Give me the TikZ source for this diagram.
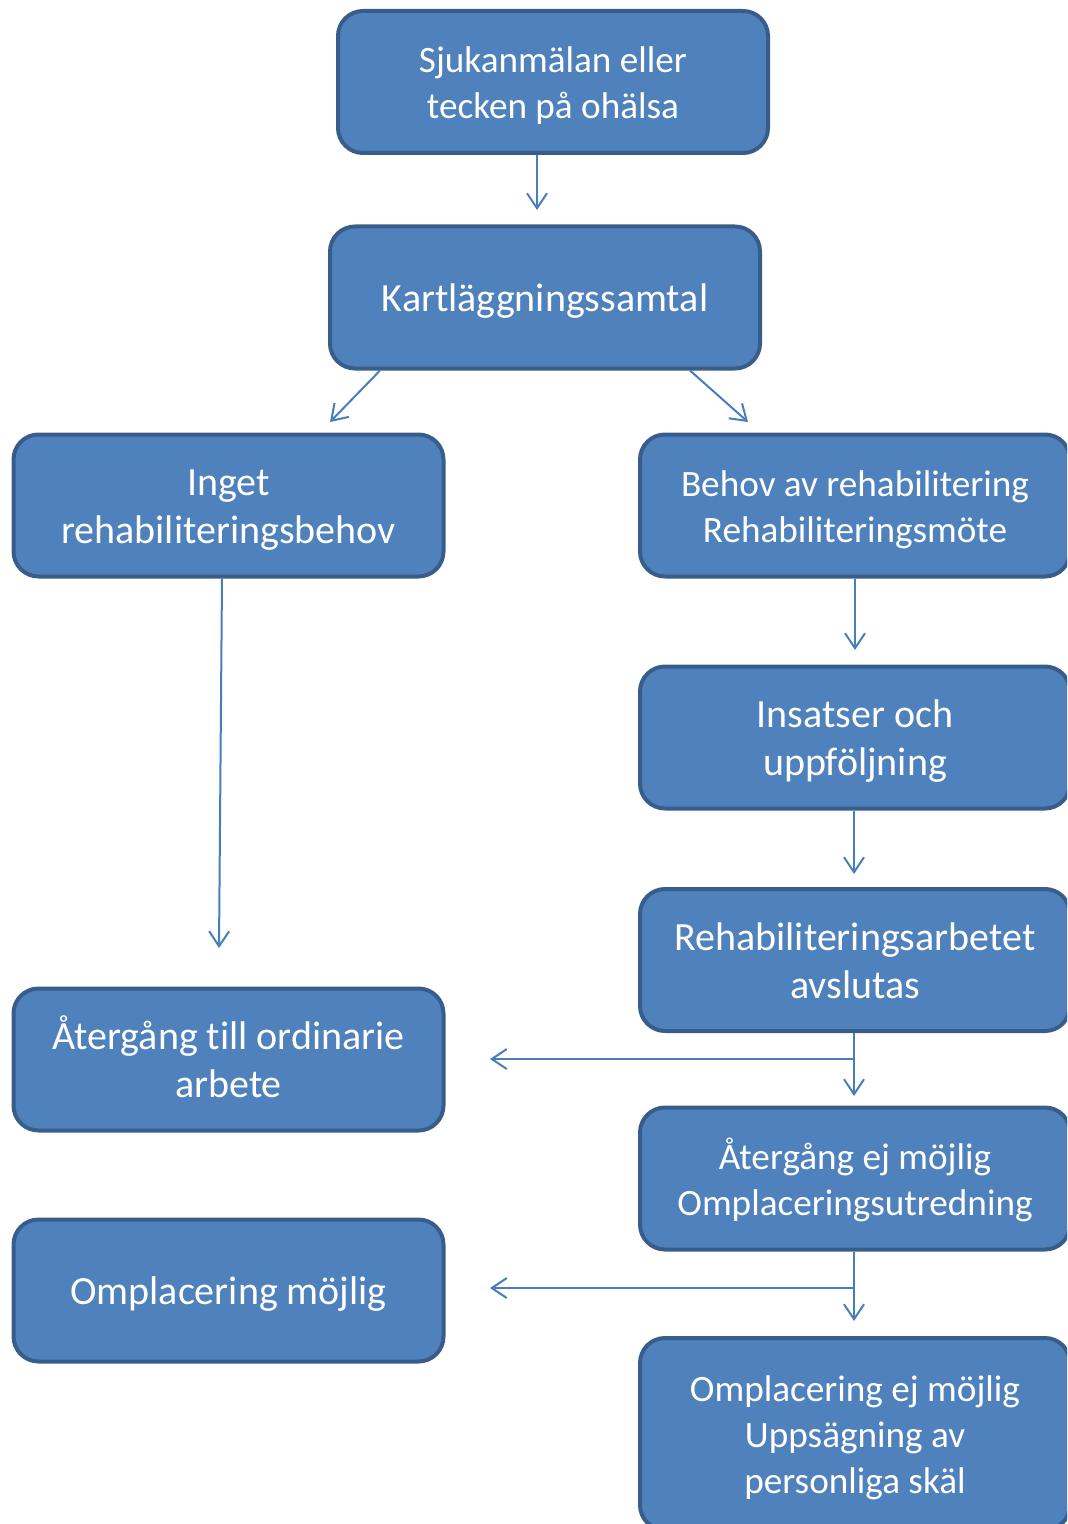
\documentclass[tikz,border=0pt]{standalone}
\usepackage{fontspec}
\setmainfont{Carlito}[Ligatures=NoCommon]
\usetikzlibrary{arrows.meta}
\definecolor{boxfill}{HTML}{4F81BD}
\definecolor{boxline}{HTML}{385D8A}
\definecolor{arrcol}{HTML}{4A7EBB}
\newcommand{\tallstrut}{\rule{0pt}{\dimexpr\ht\strutbox+4.5pt\relax}\rule[-\dp\strutbox]{0pt}{0pt}}
\tikzset{
  flowbox/.style={rectangle, rounded corners=12.5pt, fill=boxfill, draw=boxline,
    line width=2pt, text=white, align=center, minimum width=215pt,
    minimum height=71pt, inner sep=0pt},
  bigtxt/.style={font=\fontsize{20}{24}\selectfont},
  smalltxt/.style={font=\fontsize{18.6}{23}\selectfont},
  arr/.style={draw=arrcol, line width=1pt, -{Straight Barb[length=7.5pt,width=10pt]}}
}
\begin{document}
\begin{tikzpicture}[x=0.5pt,y=-0.5pt]
\useasboundingbox (0,0) rectangle (1067,1524);
\clip (0,0) rectangle (1067,1524);
\node[flowbox,smalltxt] (b1) at (553,82) {\tallstrut Sjukanmälan eller\\\strut tecken på ohälsa};
\node[flowbox,bigtxt] (b2) at (545,297.5) {\tallstrut Kartläggningssamtal};
\node[flowbox,bigtxt] (b3) at (228.5,505.5) {\tallstrut Inget\\\strut rehabiliteringsbehov};
\node[flowbox,smalltxt] (b4) at (855,505.5) {\tallstrut Behov av rehabilitering\\\strut Rehabiliteringsmöte};
\node[flowbox,bigtxt] (b5) at (855,737.5) {\tallstrut Insatser och\\\strut uppföljning};
\node[flowbox,bigtxt] (b6) at (855,960) {\tallstrut Rehabiliteringsarbetet\\\strut avslutas};
\node[flowbox,smalltxt] (b7) at (855,1178.5) {\tallstrut Återgång ej möjlig\\\strut Omplaceringsutredning};
\node[flowbox,smalltxt,minimum height=96pt] (b8) at (855,1434) {\tallstrut Omplacering ej möjlig\\\strut Uppsägning av\\\strut personliga skäl};
\node[flowbox,bigtxt] (b9) at (228.5,1059.5) {\tallstrut Återgång till ordinarie\\\strut arbete};
\node[flowbox,bigtxt] (b10) at (228.5,1290.5) {\tallstrut Omplacering möjlig};

\coordinate (t12) at (537,210);
\coordinate (t23) at (330,422);
\coordinate (t24) at (748,422);
\coordinate (t39) at (219,948);
\coordinate (t45) at (855,650);
\coordinate (t56) at (854,874);
\coordinate (t67) at (854,1096);
\coordinate (j6) at (854,1059);
\coordinate (t69) at (490,1059);
\coordinate (t78) at (854,1321);
\coordinate (j7) at (854,1288);
\coordinate (t710) at (490,1288);

\draw[arr] (b1.south -| t12) -- (t12);
\draw[arr] ([xshift=-82.5pt]b2.south) -- (t23);
\draw[arr] ([xshift=72.5pt]b2.south) -- (t24);
\draw[arr] ([xshift=-3.25pt]b3.south) -- (t39);
\draw[arr] (b4.south -| t45) -- (t45);
\draw[arr] (b5.south -| t56) -- (t56);
\draw[arr] (b6.south -| t67) -- (t67);
\draw[arr] (j6) -- (t69);
\draw[arr] (b7.south -| t78) -- (t78);
\draw[arr] (j7) -- (t710);
\end{tikzpicture}
\end{document}
